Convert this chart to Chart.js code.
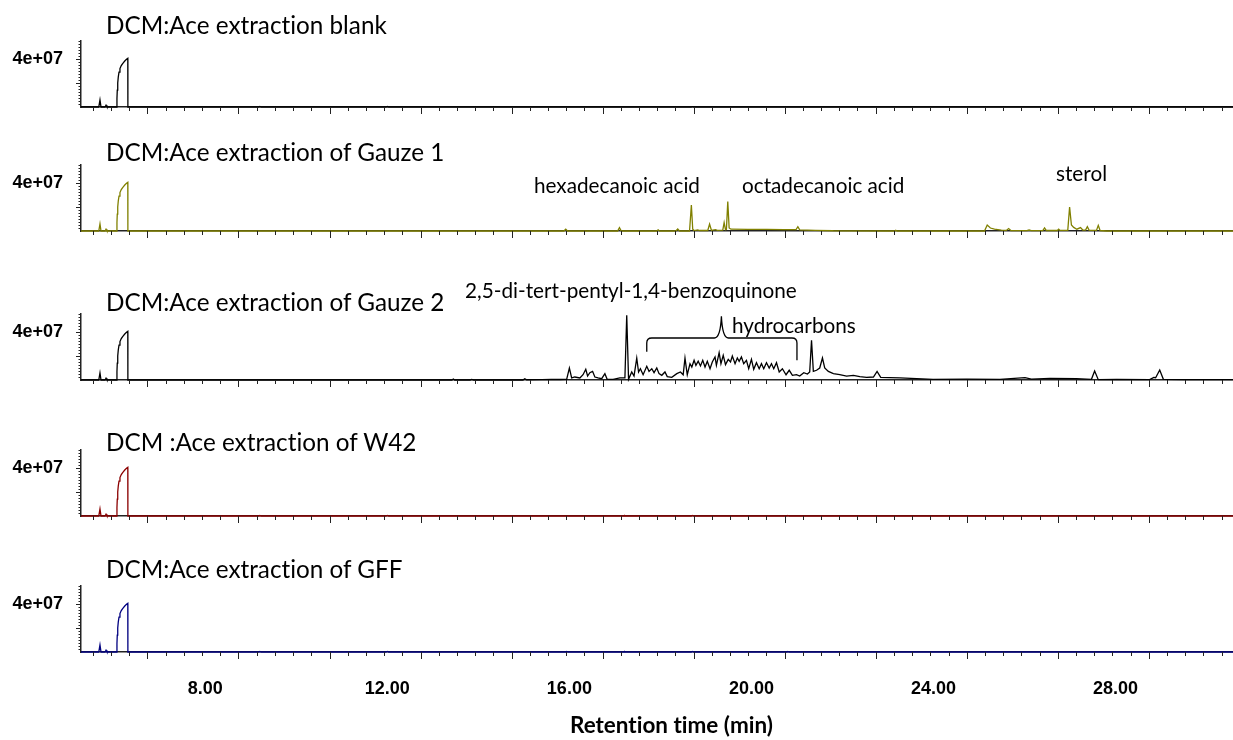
<!DOCTYPE html>
<html>
<head>
<meta charset="UTF-8">
<title>GC-MS chromatograms</title>
<script src="https://cdn.jsdelivr.net/npm/chart.js@4.4.1/dist/chart.umd.min.js"></script>
<style>
body{
    margin: 0;
    width: 1233px;
    height: 740px;
    position: relative;
    background: #fff;
    overflow: hidden;
}
canvas{
    position: absolute;
    left: 0;
}
.lbl{
    position: absolute;
    white-space: nowrap;
    line-height: 1;
    font-family: Lato, "Open Sans", sans-serif;
    font-variant-ligatures: none;
    font-size: 20px;
    color: #000;
    transform: translateY(-50%);
}
.title{ left: 106px; }
.bold{ font-weight: bold; }
</style>
</head>
<body>
<canvas id="c1"></canvas>
<canvas id="c2"></canvas>
<canvas id="c3"></canvas>
<canvas id="c4"></canvas>
<canvas id="c5"></canvas>

<div class="lbl title" id="t1" style="top:24.5px">DCM:Ace extraction blank</div>
<div class="lbl title" style="top:152px">DCM:Ace extraction of Gauze 1</div>
<div class="lbl title" style="top:302px">DCM:Ace extraction of Gauze 2</div>
<div class="lbl title" style="top:442px">DCM :Ace extraction of W42</div>
<div class="lbl title" style="top:569px">DCM:Ace extraction of GFF</div>

<div class="lbl note" id="n1" style="left:465px;top:290px">2,5-di-tert-pentyl-1,4-benzoquinone</div>
<div class="lbl note" style="left:732px;top:325px">hydrocarbons</div>
<div class="lbl note" style="left:534px;top:185px">hexadecanoic acid</div>
<div class="lbl note" style="left:742px;top:185px">octadecanoic acid</div>
<div class="lbl note" style="left:1056px;top:173px">sterol</div>

<div class="lbl bold" id="xt" style="left:570px;top:725px">Retention time (min)</div>

<script type="text/javascript">

// x axis (retention time, min) and y axis (abundance)
var xMin = 5.27
var xMax = 30.58
var xLabelValues = [8, 12, 16, 20, 24, 28]
var yMax = 5.5e7
var yLabelValues = [4e7]
var yLabelText = ['4e+07']

// solvent front, the same in every run
var solventTime = [5.27, 5.66, 5.687, 5.71, 5.80, 5.82, 5.84, 6.054, 6.060, 6.067, 6.077, 6.089, 6.105, 6.126, 6.155, 6.185, 6.236, 6.27, 6.298, 6.300]
var solventAbund = [0, 0, 6e6, 0, 0, 1.5e6, 0, 0, 7e6, 1.4e7, 2.0e7, 2.5e7, 2.9e7, 3.2e7, 3.45e7, 3.62e7, 3.85e7, 3.97e7, 4.05e7, 0]

// blank
var blankTime = [6.31, 9.17, 9.2, 9.23, 11.97, 12.0, 12.03, 18.68, 18.7, 18.73, 30.6]
var blankAbund = [0, 0, 4e5, 0, 0, 4e5, 0, 0, 3e5, 0, 0]

// gauze 1
var gauze1Time = [6.31, 15.88, 15.92, 15.96, 17.06, 17.10, 17.14, 17.92, 17.95, 17.98, 18.34, 18.38, 18.42, 18.64, 18.68, 18.71, 18.74, 18.82, 18.86, 19.04, 19.08, 19.12, 19.21, 19.25, 19.37, 19.40, 19.43, 19.45, 19.48, 19.51, 19.55, 19.92, 20.34, 20.7, 20.98, 21.02, 21.06, 21.4, 21.8, 23.15, 23.17, 23.2, 25.12, 25.18, 25.25, 25.34, 25.49, 25.6, 25.65, 25.7, 26.05, 26.1, 26.15, 26.40, 26.44, 26.48, 26.72, 26.75, 26.78, 26.95, 26.99, 27.03, 27.08, 27.15, 27.23, 27.28, 27.34, 27.38, 27.42, 27.58, 27.62, 27.66, 27.8, 30.6]
var gauze1Abund = [0, 0, 1.5e6, 0, 0, 2.8e6, 0, 0, 1e6, 0, 0, 1.7e6, 0, 0, 2.17e7, 1.5e6, 4e5, 1e6, 4e5, 4e5, 5.8e6, 6e5, 1.2e6, 6e5, 8e5, 7e6, 1e6, 1.2e6, 2.45e7, 2.5e6, 1.5e6, 1.4e6, 1.4e6, 1.2e6, 1.2e6, 3.6e6, 1e6, 6e5, 2e5, 0, 6e5, 0, 0, 5e6, 2.5e6, 1.5e6, 8e5, 5e5, 2e6, 4e5, 3e5, 8e5, 3e5, 3e5, 2.5e6, 4e5, 4e5, 1.5e6, 5e5, 6e5, 2.0e7, 5e6, 3e6, 1.5e6, 2.8e6, 8e5, 8e5, 3.6e6, 6e5, 5e5, 4.7e6, 4e5, 0, 0]

// gauze 2
var gauze2Time = [6.31, 12.2, 13.42, 13.45, 13.48, 13.82, 13.85, 13.9, 14.98, 15.02, 15.06, 15.4, 15.6, 15.8, 15.94, 16.00, 16.05, 16.12, 16.23, 16.30, 16.36, 16.40, 16.45, 16.51, 16.56, 16.63, 16.71, 16.78, 16.83, 16.96, 17.11, 17.22, 17.26, 17.30, 17.37, 17.42, 17.48, 17.52, 17.56, 17.62, 17.70, 17.75, 17.81, 17.86, 17.92, 17.97, 18.03, 18.10, 18.15, 18.25, 18.36, 18.44, 18.50, 18.54, 18.59, 18.65, 18.69, 18.74, 18.78, 18.83, 18.88, 18.93, 18.98, 19.03, 19.09, 19.14, 19.20, 19.23, 19.29, 19.33, 19.38, 19.43, 19.49, 19.54, 19.58, 19.64, 19.69, 19.73, 19.78, 19.83, 19.89, 19.94, 20.00, 20.05, 20.11, 20.17, 20.22, 20.27, 20.33, 20.39, 20.44, 20.49, 20.55, 20.61, 20.68, 20.76, 20.83, 20.90, 20.99, 21.06, 21.15, 21.23, 21.28, 21.32, 21.36, 21.43, 21.50, 21.56, 21.61, 21.69, 21.80, 21.94, 22.09, 22.24, 22.38, 22.53, 22.68, 22.76, 22.84, 23.04, 23.26, 23.63, 23.99, 24.73, 25.46, 26.01, 26.15, 26.56, 27.14, 27.47, 27.54, 27.62, 28.02, 28.75, 28.84, 28.88, 28.97, 29.05, 29.49, 30.6]
var gauze2Abund = [0, 0, 0, 8e5, 0, 0, 5e5, 0, 0, 1.1e6, 2e5, 3e5, 5e5, 4e5, 5e5, 1.0e7, 1.7e6, 2.5e6, 1.7e6, 4.4e6, 8.9e6, 3.3e6, 6.1e6, 7.2e6, 2.5e6, 1.7e6, 1.1e6, 5.3e6, 6e5, 6e5, 1.7e6, 1.7e6, 5.4e7, 6e5, 6.7e6, 3.3e6, 1.83e7, 6.7e6, 9.4e6, 4.4e6, 1.14e7, 7.2e6, 9.4e6, 6.1e6, 1.0e7, 5.3e6, 3.9e6, 6.7e6, 2.8e6, 2.2e6, 5.3e6, 6.7e6, 4.4e6, 1.83e7, 4.4e6, 1.36e7, 1.08e7, 1.64e7, 1.22e7, 1.56e7, 1.17e7, 1.64e7, 1.08e7, 1.56e7, 9.4e6, 1.5e7, 1.92e7, 1.22e7, 2.28e7, 1.36e7, 2.06e7, 1.28e7, 1.72e7, 1.5e7, 2.0e7, 1.36e7, 1.83e7, 1.56e7, 1.92e7, 1.36e7, 1.64e7, 9.4e6, 1.72e7, 8.9e6, 1.44e7, 9.4e6, 1.36e7, 9.4e6, 1.44e7, 1.0e7, 1.36e7, 9.4e6, 1.44e7, 6.7e6, 9.4e6, 4.4e6, 8.1e6, 3.9e6, 4.4e6, 3.3e6, 6.1e6, 5.0e6, 6.7e6, 3.3e7, 7.2e6, 8.1e6, 1.0e7, 1.83e7, 1.0e7, 7.2e6, 5.3e6, 4.4e6, 3.3e6, 3.9e6, 2.8e6, 2.2e6, 2.5e6, 7.2e6, 2.2e6, 2.0e6, 1.7e6, 1.1e6, 6e5, 8e5, 6e5, 1.9e6, 8e5, 1.4e6, 1.1e6, 6e5, 7.5e6, 3e5, 6e5, 3e5, 2.2e6, 1.9e6, 8.3e6, 6e5, 3e5, 3e5]

// W42
var w42Time = [6.31, 9.17, 9.2, 9.23, 11.97, 12.0, 12.03, 17.2, 17.22, 17.25, 18.68, 18.7, 18.73, 20.78, 20.8, 20.83, 30.6]
var w42Abund = [0, 0, 4e5, 0, 0, 5e5, 0, 0, 4e5, 0, 0, 5e5, 0, 0, 4e5, 0, 0]

// GFF
var gffTime = [6.31, 9.17, 9.2, 9.23, 11.97, 12.0, 12.03, 15.92, 15.94, 15.97, 17.2, 17.22, 17.25, 18.68, 18.7, 18.73, 20.78, 20.8, 20.83, 30.6]
var gffAbund = [0, 0, 4e5, 0, 0, 5e5, 0, 0, 4e5, 0, 0, 4e5, 0, 0, 5e5, 0, 0, 4e5, 0, 0]

// hydrocarbon bracket over gauze 2: times (left, tip, right), levels (bar, left foot, right foot, tip)
var braceTimes = [17.70, 19.34, 21.00]
var braceLevels = [3.5e7, 2.35e7, 1.65e7, 5.3e7]

// tick marks on every panel
var xMajorStart = 6.73
var xMajorStep = 2
var xMinorStep = 0.4
var yMajorStep = 2e7
var yMinorStep = 2.5e6

var panels = [
    {id: 'c1', time: blankTime, abund: blankAbund, color: '#000000', base: 107},
    {id: 'c2', time: gauze1Time, abund: gauze1Abund, color: '#808000', base: 231},
    {id: 'c3', time: gauze2Time, abund: gauze2Abund, color: '#000000', base: 380, brace: true},
    {id: 'c4', time: w42Time, abund: w42Abund, color: '#8b0000', base: 516},
    {id: 'c5', time: gffTime, abund: gffAbund, color: '#000080', base: 652, last: true}
]

var plotH = 66
var padTop = 6

var tickMarks = {
    id: 'tickMarks',
    afterDraw: function(chart) {
        var ctx = chart.ctx, xs = chart.scales.x, ys = chart.scales.y
        var base = chart.chartArea.bottom, left = chart.chartArea.left
        ctx.save()
        ctx.strokeStyle = '#222'
        ctx.lineWidth = 1
        ctx.beginPath()
        for (var k = -3; ; k++) {
            var t = xMajorStart + k * xMinorStep
            if (t > xs.max) break
            if (t < xs.min) continue
            var px = Math.round(xs.getPixelForValue(t)) + 0.5
            var major = ((k % 5) + 5) % 5 == 0
            ctx.moveTo(px, base)
            ctx.lineTo(px, base + (major ? 7 : 4))
        }
        for (var j = 1; j * yMinorStep <= ys.max; j++) {
            var v = j * yMinorStep
            var py = Math.round(ys.getPixelForValue(v)) + 0.5
            var ymaj = (j % Math.round(yMajorStep / yMinorStep)) == 0
            ctx.moveTo(left, py)
            ctx.lineTo(left - (ymaj ? 5 : 2.5), py)
        }
        ctx.stroke()
        ctx.restore()
    }
}

var braceMark = {
    id: 'braceMark',
    afterDatasetsDraw: function(chart) {
        var ctx = chart.ctx, xs = chart.scales.x, ys = chart.scales.y
        var xl = xs.getPixelForValue(braceTimes[0])
        var xm = xs.getPixelForValue(braceTimes[1])
        var xr = xs.getPixelForValue(braceTimes[2])
        var yb = ys.getPixelForValue(braceLevels[0])
        var yl = ys.getPixelForValue(braceLevels[1])
        var yr = ys.getPixelForValue(braceLevels[2])
        var yt = ys.getPixelForValue(braceLevels[3])
        ctx.save()
        ctx.strokeStyle = '#000'
        ctx.lineWidth = 1.3
        ctx.beginPath()
        ctx.moveTo(xl, yl)
        ctx.lineTo(xl, yb + 5)
        ctx.quadraticCurveTo(xl, yb, xl + 5, yb)
        ctx.lineTo(xm - 7, yb)
        ctx.quadraticCurveTo(xm - 1, yb, xm, yt)
        ctx.quadraticCurveTo(xm + 1, yb, xm + 7, yb)
        ctx.lineTo(xr - 5, yb)
        ctx.quadraticCurveTo(xr, yb, xr, yb + 5)
        ctx.lineTo(xr, yr)
        ctx.stroke()
        ctx.restore()
    }
}

var makePanel = function(p) {
    var below = p.last ? 60 : 12
    var cv = document.getElementById(p.id)
    cv.width = 1233
    cv.height = plotH + padTop + below
    cv.style.top = (p.base - plotH - padTop) + 'px'

    var pts = []
    solventTime.forEach(function(t, i) { pts.push({x: t, y: solventAbund[i]}) })
    p.time.forEach(function(t, i) { pts.push({x: t, y: p.abund[i]}) })

    new Chart(cv, {
        type: 'line',
        data: {
            datasets: [{
                data: pts,
                borderColor: p.color,
                borderWidth: 1.3,
                pointRadius: 0,
                tension: 0,
                fill: false,
                clip: 5
            }]
        },
        options: {
            animation: false,
            responsive: false,
            devicePixelRatio: 1,
            layout: {padding: {top: padTop, left: 0, right: 0, bottom: 0}},
            plugins: {legend: {display: false}, tooltip: {enabled: false}},
            scales: {
                x: {
                    type: 'linear',
                    min: xMin,
                    max: xMax,
                    afterFit: function(s) {
                        s.height = below
                        s.paddingLeft = 0
                        s.paddingRight = 0
                    },
                    afterBuildTicks: function(s) { s.ticks = xLabelValues.map(function(v) { return {value: v} }) },
                    grid: {display: false, drawTicks: false},
                    border: {color: '#222', width: 1.5},
                    ticks: {
                        display: !!p.last,
                        autoSkip: false,
                        maxRotation: 0,
                        padding: 26,
                        color: '#000',
                        font: {family: 'Liberation Sans', size: 18, weight: 'bold'},
                        callback: function(v) { return Number(v).toFixed(2) }
                    }
                },
                y: {
                    min: 0,
                    max: yMax,
                    afterFit: function(s) {
                        s.width = 81
                        s.paddingTop = 0
                        s.paddingBottom = 0
                    },
                    afterBuildTicks: function(s) { s.ticks = yLabelValues.map(function(v) { return {value: v} }) },
                    grid: {display: false, drawTicks: false},
                    border: {color: '#222', width: 1.5},
                    ticks: {
                        padding: 18,
                        color: '#000',
                        font: {family: 'Liberation Sans', size: 18, weight: 'bold'},
                        callback: function(v, i) { return yLabelText[i] }
                    }
                }
            }
        },
        plugins: p.brace ? [tickMarks, braceMark] : [tickMarks]
    })
}

panels.forEach(makePanel)

// size the text to the widths in the figure
var fitTo = function(el, width) {
    var w = el.getBoundingClientRect().width
    var fs = parseFloat(getComputedStyle(el).fontSize)
    return fs * width / w
}
var titleSize = fitTo(document.getElementById('t1'), 281)
document.querySelectorAll('.title').forEach(function(el) { el.style.fontSize = titleSize + 'px' })
var noteSize = fitTo(document.getElementById('n1'), 332)
document.querySelectorAll('.note').forEach(function(el) { el.style.fontSize = noteSize + 'px' })
var xt = document.getElementById('xt')
xt.style.fontSize = fitTo(xt, 203) + 'px'
</script>
</body>
</html>
